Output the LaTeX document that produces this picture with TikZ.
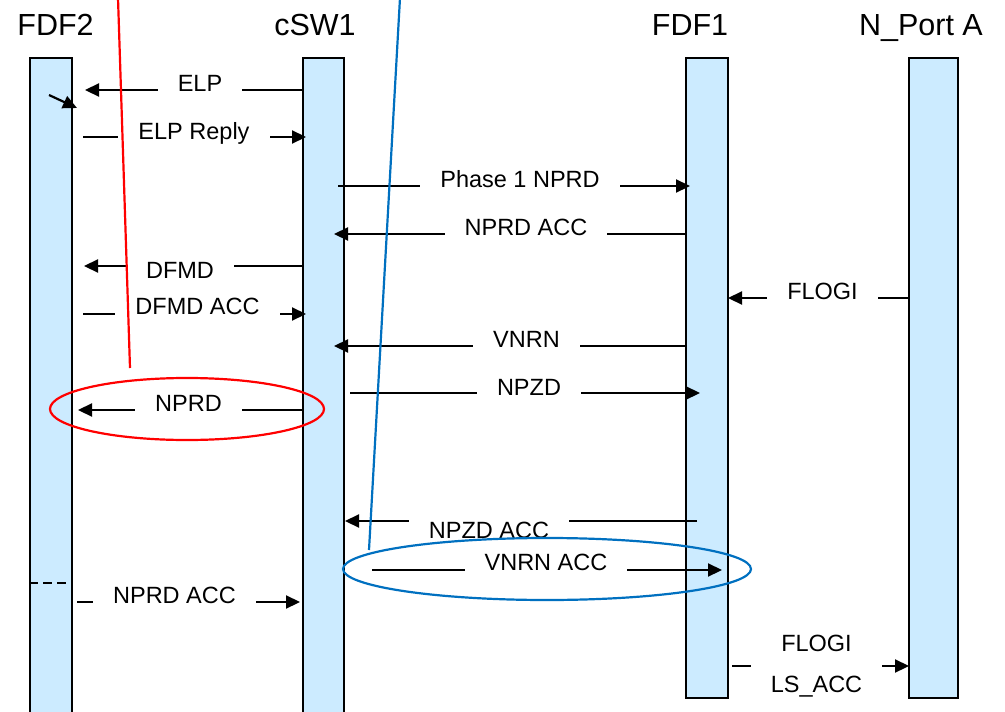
\documentclass[tikz,border=0pt]{standalone}
\usepackage{fontspec}
\setmainfont{Liberation Sans}
\usetikzlibrary{arrows.meta}
\definecolor{lifefill}{RGB}{204,235,255}
\definecolor{hlred}{RGB}{255,0,0}
\definecolor{hlblue}{RGB}{0,112,192}
\begin{document}
\begin{tikzpicture}[x=1pt,y=-1pt,
 life/.style={draw=black, line width=2pt, fill=lifefill, inner sep=0pt},
 title/.style={font=\fontsize{30.5}{36}\selectfont, inner sep=0pt, text height=22pt, text depth=0pt},
 msg/.style={line width=2.2pt, -{Triangle[length=14pt,width=13pt]}},
 lbl/.style={fill=white, inner xsep=20pt, inner ysep=5pt, text height=17pt, text depth=0pt, font=\fontsize{23.5}{28}\selectfont},
 hl/.style={line width=2.2pt},
]
\useasboundingbox (0,0) rectangle (1005,712);
\clip (0,0) rectangle (1005,712);

% titles
\node[title] (t2) at (55.5,24) {FDF2};
\node[title] (ts) at (315,24) {cSW1};
\node[title] (t1) at (690,24) {FDF1};
\node[title] (tn) at (921,24) {N\_Port A};

% lifelines
\node[life, minimum width=42pt, minimum height=662pt] (F2) at (51,389) {};
\node[life, minimum width=41pt, minimum height=662pt] (S) at (323.5,389) {};
\node[life, minimum width=42pt, minimum height=640pt] (F1) at (707,378) {};
\node[life, minimum width=49pt, minimum height=640pt] (NP) at (933.5,378) {};

% free ends
\coordinate (e1) at (85,90);
\coordinate (a2) at (83,137);  \coordinate (b2) at (306,137);
\coordinate (a3) at (338,186); \coordinate (b3) at (690,186);
\coordinate (b4) at (334,234);
\coordinate (b5) at (84,266);
\coordinate (a6) at (83,314);  \coordinate (b6) at (306,314);
\coordinate (b7) at (728,298);
\coordinate (b8) at (334,346);
\coordinate (a9) at (350,393); \coordinate (b9) at (700,393);
\coordinate (b10) at (78,410);
\coordinate (a11) at (697,521); \coordinate (b11) at (345,521);
\coordinate (a12) at (372,570); \coordinate (b12) at (722,570);
\coordinate (a13) at (77,602);  \coordinate (b13) at (300,602);
\coordinate (a15) at (732,666); \coordinate (b15) at (909,666);
\coordinate (sa) at (49,95); \coordinate (sb) at (77,108);
\coordinate (dy) at (0,583);

% messages
\draw[msg] (S.west |- e1) -- (e1);
\draw[msg] (sa) -- (sb);
\draw[msg] (a2) -- (b2);
\draw[msg] (a3) -- (b3);
\draw[msg] (F1.west |- b4) -- (b4);
\draw[msg] (S.west |- b5) -- (b5);
\draw[msg] (a6) -- (b6);
\draw[msg] (NP.west |- b7) -- (b7);
\draw[msg] (F1.west |- b8) -- (b8);
\draw[msg] (a9) -- (b9);
\draw[msg] (S.west |- b10) -- (b10);
\draw[msg] (a11) -- (b11);
\draw[msg] (a12) -- (b12);
\draw[msg] (a13) -- (b13);
\draw[msg] (a15) -- (b15);
\draw[line width=2pt, dash pattern=on 9pt off 5pt] (F2.west |- dy) -- (F2.east |- dy);

% labels
\node[lbl] (l1) at (200,83) {ELP};
\node[lbl] (l2) at (194,131) {ELP Reply};
\node[lbl] (l3) at (520,179) {Phase 1 NPRD};
\node[lbl] (l4) at (526,227) {NPRD ACC};
\node[lbl] (l5) at (180,270) {DFMD};
\node[lbl] (l6) at (197.5,306) {DFMD ACC};
\node[lbl] (l7) at (822.5,291) {FLOGI};
\node[lbl] (l8) at (526.5,339) {VNRN};
\node[lbl] (l9) at (529,387) {NPZD};
\node[lbl] (l10) at (188.5,403) {NPRD};
\node[lbl] (l11) at (489,530) {NPZD ACC};
\node[lbl] (l12) at (546,562) {VNRN ACC};
\node[lbl] (l13) at (174.5,595) {NPRD ACC};
\node[fill=white, inner xsep=20pt, inner ysep=0pt, align=center, font=\fontsize{23.5}{41}\selectfont] (l15) at (816.5,666) {FLOGI\\LS\_ACC};

% highlights
\draw[hl, hlred] (187,409) ellipse [x radius=137, y radius=31];
\draw[hl, hlblue] (547,569) ellipse [x radius=204, y radius=31];
\coordinate (r0) at (118,-2); \coordinate (r1) at (130,368);
\coordinate (u0) at (400,-2); \coordinate (u1) at (369,550);
\draw[hl, hlred] (r0) -- (r1);
\draw[hl, hlblue] (u0) -- (u1);
\end{tikzpicture}
\end{document}
